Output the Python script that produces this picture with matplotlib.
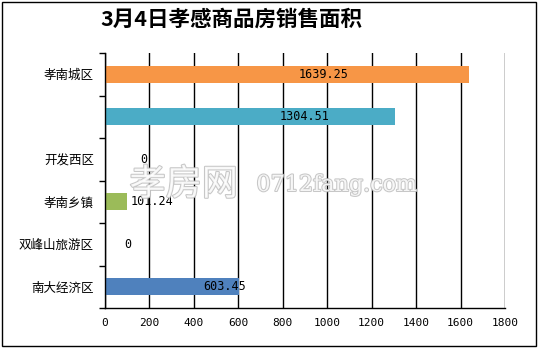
import matplotlib
matplotlib.use('Agg')
import matplotlib.pyplot as plt
import matplotlib.patheffects as pe
from matplotlib.patches import Rectangle

plt.rcParams['font.family'] = ['Noto Sans CJK SC', 'DejaVu Sans']

# data (top to bottom)
categories = ['孝南城区', '', '开发西区', '孝南乡镇', '双峰山旅游区', '南大经济区']
values = [1639.25, 1304.51, 0, 101.24, 0, 603.45]
value_labels = ['1639.25', '1304.51', '0', '101.24', '0', '603.45']
label_x = [985, 900, 175, 212, 104, 540]  # where the value labels sit
colors = ['#F79646', '#4BACC6', '#9BBB59', '#9BBB59', '#4F81BD', '#4F81BD']
xticks = [0, 200, 400, 600, 800, 1000, 1200, 1400, 1600, 1800]

fig = plt.figure(figsize=(5.4, 3.49), dpi=100)
ax = fig.add_axes([0.1944, 0.1175, 0.7408, 0.7305])

pos = list(range(len(categories)))
ax.barh(pos, values, height=0.4, color=colors, zorder=3)

for p, lx, txt in zip(pos, label_x, value_labels):
    ax.text(lx, p, txt, ha='center', va='center', fontsize=8.5,
            family='DejaVu Sans Mono', zorder=5)

ax.set_xlim(0, 1800)
ax.set_ylim(len(categories) - 0.5, -0.5)
ax.set_xticks(xticks)
ax.set_xticklabels([str(v) for v in xticks], family='DejaVu Sans Mono', fontsize=8)
ax.tick_params(axis='x', length=0, pad=7)
ax.set_yticks(pos)
ax.set_yticklabels(categories, fontsize=9)
ax.tick_params(axis='y', which='major', length=0, pad=8)
ax.set_yticks([p - 0.5 for p in pos] + [len(pos) - 0.5], minor=True)
ax.tick_params(axis='y', which='minor', length=4, width=1, direction='out', color='black')
ax.grid(axis='x', color='black', linewidth=1, zorder=1)
ax.set_axisbelow(True)
for s in ['top', 'right']:
    ax.spines[s].set_visible(False)
for s in ['left', 'bottom']:
    ax.spines[s].set_color('black')
    ax.spines[s].set_linewidth(1)
    ax.spines[s].set_zorder(4)

# watermark
wm = [pe.withStroke(linewidth=1.5, foreground='#BDBDBD')]
fig.text(0.24, 0.47, '孝房网', fontsize=26, color='white', alpha=0.85,
         path_effects=wm, zorder=6, va='center')
fig.text(0.475, 0.47, '0712fang.com', fontsize=16, color='white', alpha=0.85,
         family='DejaVu Serif', path_effects=wm, zorder=6, va='center')

fig.text(0.185, 0.945, '3月4日孝感商品房销售面积', fontsize=15.5,
         fontweight='bold', va='center')

fig.patches.append(Rectangle((0.003, 0.008), 0.99, 0.985, transform=fig.transFigure,
                             fill=False, edgecolor='black', linewidth=1))

fig.savefig('out.png', dpi=100)
